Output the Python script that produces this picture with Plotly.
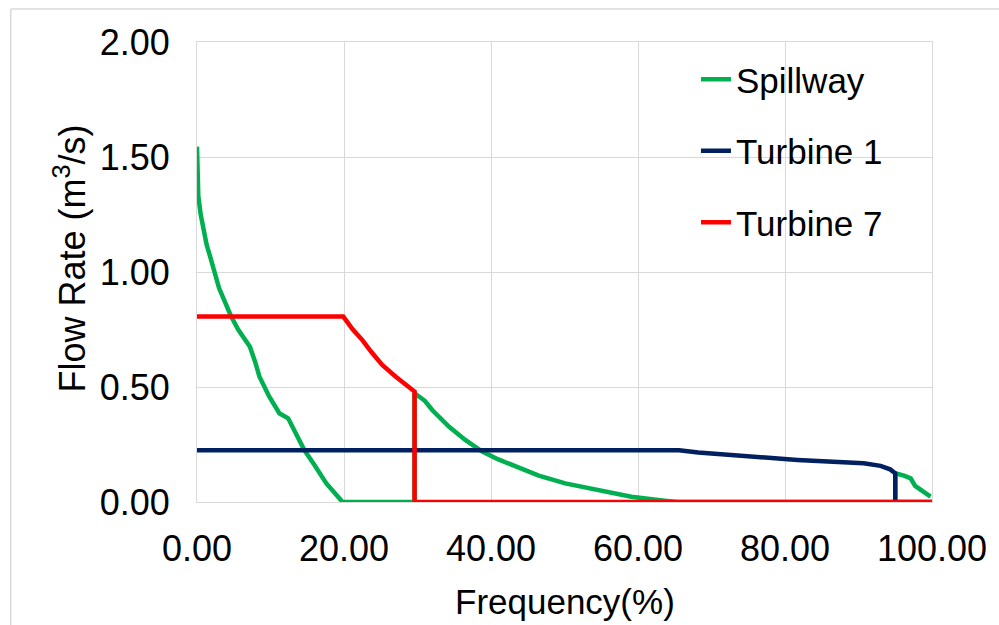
import plotly.graph_objects as go

# ---- data ----
spill_x = [0, 0.18, 0.5, 0.86, 1.3, 1.76, 2.4, 3.0, 3.8, 4.6, 5.6, 6.4, 7.2, 7.9, 8.5, 9.8, 11.2, 12.4, 13.5, 14.6, 16.0, 17.6, 19.8,
           29.6, 29.6, 31.0, 32.0, 34.3, 36.5, 38.8, 41.0, 43.3, 46.5, 50.1, 54.6, 59.1, 63.6, 65.4,
           95.0, 95.0, 96.2, 97.1, 97.7, 98.7, 99.8]
spill_y = [1.545, 1.33, 1.25, 1.18, 1.12, 1.07, 1.0, 0.93, 0.87, 0.81, 0.75, 0.715, 0.675, 0.61, 0.545, 0.46, 0.386, 0.364, 0.29, 0.226, 0.16, 0.081, 0.0,
           0.0, 0.473, 0.44, 0.40, 0.327, 0.27, 0.219, 0.185, 0.154, 0.115, 0.081, 0.052, 0.023, 0.006, 0.0,
           0.0, 0.125, 0.115, 0.103, 0.07, 0.05, 0.023]

t1_x = [0, 65.6, 68.2, 74.9, 81.7, 90.7, 93.0, 94.3, 95.0, 95.0, 100]
t1_y = [0.225, 0.225, 0.215, 0.197, 0.183, 0.168, 0.157, 0.142, 0.125, 0.0, 0.0]

t7_x = [0, 19.9, 21.2, 22.5, 23.7, 25.2, 27.05, 28.3, 29.6, 29.6, 100]
t7_y = [0.806, 0.806, 0.75, 0.704, 0.653, 0.596, 0.545, 0.515, 0.48, 0.0, 0.0]

series_names = ["Spillway", "Turbine 1", "Turbine 7"]
series_colors = ["#00B050", "#002060", "#FF0000"]

x_ticks = [0, 20, 40, 60, 80, 100]
y_ticks = [0, 0.5, 1.0, 1.5, 2.0]

FONT = "Liberation Sans, Arial, sans-serif"
FS = 35
TFS = 36
GRID = "#d9d9d9"

fig = go.Figure()
for name, xs, ys, col in zip(series_names, [spill_x, t1_x, t7_x], [spill_y, t1_y, t7_y], series_colors):
    fig.add_trace(go.Scatter(x=xs, y=ys, mode="lines", name=name, legendgroup=name,
                             line=dict(color=col, width=4.5)))

W, H = 999, 625
L, R, T, B = 197, 64, 42, 123
pw, ph = W - L - R, H - T - B

def px(xp):
    return (xp - L) / pw

def py(yp):
    return (H - B - yp) / ph

fig.update_layout(
    width=W, height=H,
    margin=dict(l=L, r=R, t=T, b=B, pad=0),
    paper_bgcolor="white", plot_bgcolor="white",
    font=dict(family=FONT, size=FS, color="black"),
    showlegend=True,
    legend=dict(x=px(698), y=py(50), xanchor="left", yanchor="top",
                bgcolor="rgba(0,0,0,0)", font=dict(size=FS),
                traceorder="grouped", tracegroupgap=23, itemwidth=30),
    xaxis=dict(range=[0, 100], tickvals=x_ticks, tickformat=".2f",
               showgrid=True, gridcolor=GRID, gridwidth=1, zeroline=False,
               showline=True, linecolor=GRID, linewidth=1, mirror=True,
               ticks="", ticklabelstandoff=15, tickfont=dict(size=TFS)),
    yaxis=dict(range=[0, 2], tickvals=y_ticks, tickformat=".2f",
               showgrid=True, gridcolor=GRID, gridwidth=1, zeroline=False,
               showline=True, linecolor=GRID, linewidth=1, mirror=True,
               ticks="", ticklabelstandoff=19, tickfont=dict(size=TFS)),
    shapes=[
        dict(type="rect", xref="paper", yref="paper", x0=px(657), x1=px(927), y0=py(265), y1=py(45),
             fillcolor="white", line=dict(width=0), layer="between"),
        dict(type="line", xref="paper", yref="paper", x0=px(10), x1=px(10), y0=py(9), y1=py(640),
             line=dict(color=GRID, width=1.5)),
        dict(type="line", xref="paper", yref="paper", x0=px(10), x1=px(1010), y0=py(9), y1=py(9),
             line=dict(color=GRID, width=1.5)),
    ],
    annotations=[
        dict(text="Flow Rate (m<sup>3</sup>/s)", xref="paper", yref="paper", x=px(69), y=py(259),
             xanchor="center", yanchor="middle", textangle=-90, showarrow=False,
             font=dict(size=36, family=FONT)),
        dict(text="Frequency(%)", xref="paper", yref="paper", x=px(567), y=py(601),
             xanchor="center", yanchor="middle", showarrow=False,
             font=dict(size=FS, family=FONT)),
    ],
)

fig.write_html("out.html")
